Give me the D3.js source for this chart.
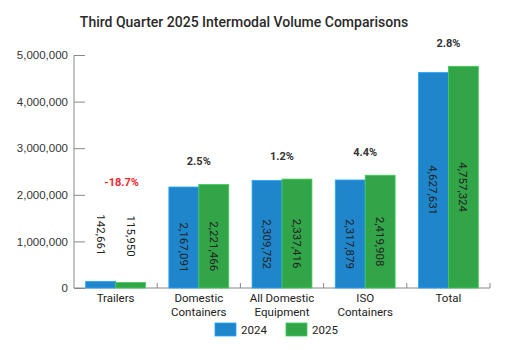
<!DOCTYPE html>
<html>
<head>
<meta charset="utf-8">
<script src="https://cdn.jsdelivr.net/npm/d3@7"></script>
<style>
    body { margin: 0; background: #fff; }
    svg { font-family: Roboto, "Noto Sans", sans-serif; }
</style>
</head>
<body>
<svg id="chart" width="515" height="350"></svg>
<script>
/**
 * Chart data
 */
var categories = [["Trailers"], ["Domestic", "Containers"], ["All Domestic", "Equipment"], ["ISO", "Containers"], ["Total"]];
var years = ["2024", "2025"];
var values2024 = [142661, 2167091, 2309752, 2317879, 4627631];
var values2025 = [115950, 2221466, 2337416, 2419908, 4757324];
var changes = ["-18.7%", "2.5%", "1.2%", "4.4%", "2.8%"];
var yTicks = [0, 1000000, 2000000, 3000000, 4000000, 5000000];
var colors = ["#1f86cc", "#33a549"];

window.onload = function(){
    drawChart();
};

function drawChart(){
    let svg = d3.select("#chart");

    let margin = {left: 74, right: 25, top: 55, bottom: 62};
    let width = 515 - margin.left - margin.right,
        height = 350 - margin.top - margin.bottom;

    // title
    svg.append("text")
        .attr("x", 244)
        .attr("y", 27)
        .attr("text-anchor", "middle")
        .style("font-size", "14px")
        .style("font-weight", 500)
        .style("fill", "#2a2a2a")
        .text("Third Quarter 2025 Intermodal Volume Comparisons");

    let g = svg.append("g")
        .attr("transform", `translate(${margin.left},${margin.top})`);

    let idx = d3.range(categories.length);

    let x0 = d3.scaleBand()
        .domain(idx)
        .range([0, width])
        .padding(0);

    let x1 = d3.scaleBand()
        .domain(years)
        .range([0, x0.bandwidth()])
        .paddingInner(0)
        .paddingOuter(0.39);

    let yScale = d3.scaleLinear()
        .domain([0, 5000000])
        .range([height, 0]);

    // y axis
    let yAxis = g.append("g")
        .call(d3.axisLeft(yScale)
            .tickValues(yTicks)
            .tickFormat(d3.format(","))
            .tickSize(-11)
            .tickPadding(17));
    yAxis.select(".domain").attr("stroke", "#888").attr("d", `M0,${height}V0H-0`);
    yAxis.selectAll(".tick line").attr("stroke", "#888");
    yAxis.selectAll("text")
        .style("font-size", "11.5px")
        .style("fill", "#333")
        .attr("x", -6);

    // x axis baseline and dividers
    g.append("line")
        .attr("x1", 0).attr("x2", width)
        .attr("y1", height).attr("y2", height)
        .attr("stroke", "#888");
    g.selectAll(".divider")
        .data(idx.slice(1).concat([categories.length]))
        .enter()
        .append("line")
        .attr("class", "divider")
        .attr("x1", d => d * x0.step())
        .attr("x2", d => d * x0.step())
        .attr("y1", height)
        .attr("y2", height - 5)
        .attr("stroke", "#888");

    // category labels
    let catLabels = g.selectAll(".cat")
        .data(idx)
        .enter()
        .append("text")
        .attr("class", "cat")
        .attr("text-anchor", "middle")
        .attr("transform", d => `translate(${x0(d) + x0.bandwidth() / 2},${height + 14})`)
        .style("font-size", "11.5px")
        .style("fill", "#222");
    catLabels.selectAll("tspan")
        .data(d => categories[d])
        .enter()
        .append("tspan")
        .attr("x", 0)
        .attr("dy", (d, i) => i === 0 ? 0 : 13.5)
        .text(d => d);

    // bars
    let series = [values2024, values2025];
    let groups = g.selectAll(".group")
        .data(idx)
        .enter()
        .append("g")
        .attr("class", "group")
        .attr("transform", d => `translate(${x0(d)},0)`);

    let labelTops = idx.map(() => height);

    groups.selectAll("rect")
        .data(d => years.map((yr, j) => ({yr: yr, j: j, v: series[j][d]})))
        .enter()
        .append("rect")
        .attr("x", d => x1(d.yr))
        .attr("y", d => yScale(d.v))
        .attr("width", x1.bandwidth())
        .attr("height", d => height - yScale(d.v))
        .style("fill", d => colors[d.j])
        .style("stroke", d => d3.color(colors[d.j]).brighter(0.6))
        .style("stroke-width", 0.8);

    // rotated value labels
    groups.each(function(d){
        let grp = d3.select(this);
        years.forEach(function(yr, j){
            let v = series[j][d];
            let cx = x1(yr) + x1.bandwidth() / 2;
            let barH = height - yScale(v);
            let t = grp.append("text")
                .style("font-size", "11.5px")
                .style("fill", "#222")
                .text(d3.format(",")(v));
            if (barH > 60) {
                let cy = yScale(v / 2) + 10;
                t.attr("text-anchor", "middle")
                    .attr("dominant-baseline", "central")
                    .attr("transform", `translate(${cx},${cy}) rotate(90)`);
            } else {
                let endY = yScale(v) - 26;
                t.attr("text-anchor", "end")
                    .attr("dominant-baseline", "central")
                    .attr("transform", `translate(${cx},${endY}) rotate(90)`);
                labelTops[d] = Math.min(labelTops[d], endY - 59);
            }
        });
    });

    // percent change labels
    g.selectAll(".pct")
        .data(idx)
        .enter()
        .append("text")
        .attr("class", "pct")
        .attr("x", d => x0(d) + x0.bandwidth() / 2 + (d === 0 ? 6 : 0))
        .attr("y", function(d){
            let top = yScale(Math.max(values2024[d], values2025[d]));
            if (labelTops[d] < top) return labelTops[d] - 10;
            return top - 19;
        })
        .attr("text-anchor", "middle")
        .style("font-size", "11px")
        .style("font-weight", 700)
        .style("fill", d => changes[d].startsWith("-") ? "#f0282d" : "#333")
        .text(d => changes[d]);

    // legend
    let legend = svg.append("g")
        .attr("transform", "translate(215,323)");
    let items = legend.selectAll("g")
        .data(years)
        .enter()
        .append("g")
        .attr("transform", (d, i) => `translate(${i * 71},0)`);
    items.append("rect")
        .attr("width", 21)
        .attr("height", 13)
        .style("fill", (d, i) => colors[i])
        .style("stroke", (d, i) => d3.color(colors[i]).brighter(0.6))
        .style("stroke-width", 0.8);
    items.append("text")
        .attr("x", 26)
        .attr("y", 7)
        .attr("dominant-baseline", "central")
        .style("font-size", "11.5px")
        .style("fill", "#222")
        .text(d => d);
}
</script>
</body>
</html>
